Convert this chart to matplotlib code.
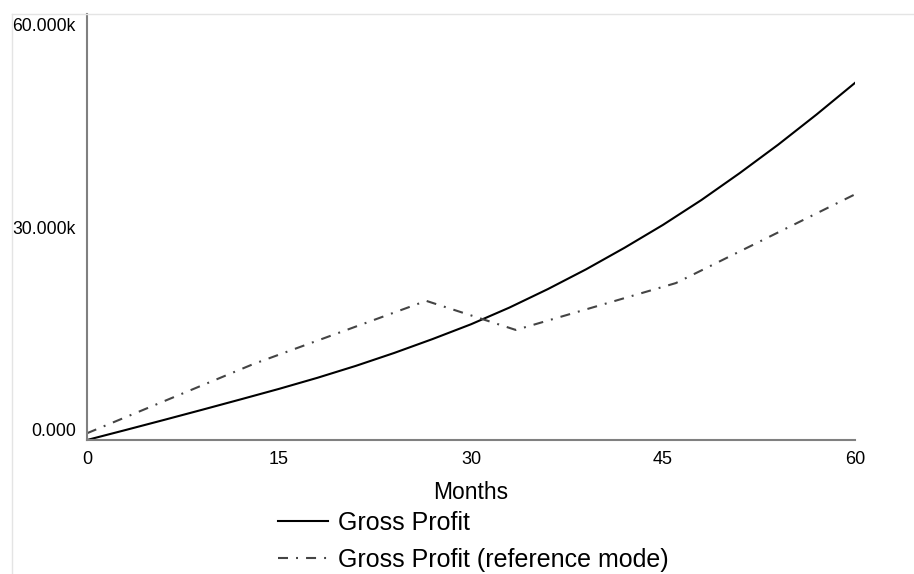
import matplotlib
matplotlib.use('Agg')
import matplotlib.pyplot as plt
import matplotlib.transforms as mtransforms
from matplotlib.lines import Line2D

plt.rcParams['font.family'] = ['Liberation Sans', 'DejaVu Sans']
plt.rcParams['lines.scale_dashes'] = False

# simulated gross profit, read off every 3 months
months = [0, 3, 6, 9, 12, 15, 18, 21, 24, 27, 30, 33, 36, 39, 42, 45, 48, 51, 54, 57, 60]
gross_profit = [0, 1400, 2820, 4260, 5720, 7200, 8760, 10440, 12260, 14220, 16300,
                18650, 21250, 24050, 27080, 30300, 33800, 37600, 41600, 45850, 50300]

# reference mode (piecewise)
ref_months = [0, 13, 26.5, 33.5, 46, 60]
ref_profit = [950, 10700, 19600, 15500, 22100, 34600]

x_ticks = [0, 15, 30, 45, 60]
y_ticks = [0, 30000, 60000]
y_tick_labels = ['0.000', '30.000k', '60.000k']

fig = plt.figure(figsize=(9.14, 5.74), dpi=100)
ax = fig.add_axes([87 / 914, 1 - 440 / 574, (855 - 87) / 914, (440 - 14) / 574])

ax.plot(months, gross_profit, color='black', lw=1.5, label='Gross Profit')
ax.plot(ref_months, ref_profit, color='#444444', lw=1.5,
        linestyle=(0, (7.2, 5.8, 1.4, 5.8)), label='Gross Profit (reference mode)')

ax.set_xlim(0, 60)
ax.set_ylim(0, 60000)
ax.set_xticks(x_ticks)
ax.set_xticklabels([str(t) for t in x_ticks], fontsize=13)
ax.set_yticks(y_ticks)
ax.set_yticklabels(y_tick_labels, fontsize=12.7)
ax.tick_params(length=0)
ax.tick_params(axis='x', pad=8)
ax.tick_params(axis='y', pad=8)
labs = ax.get_yticklabels()
labs[0].set_va('bottom')
labs[-1].set_va('top')
labs[-1].set_transform(labs[-1].get_transform() +
                       mtransforms.ScaledTranslation(0, -4 / 100, fig.dpi_scale_trans))

for s in ['top', 'right']:
    ax.spines[s].set_visible(False)
for s in ['left', 'bottom']:
    ax.spines[s].set_color('#808080')
    ax.spines[s].set_linewidth(1.5)

ax.set_xlabel('Months', fontsize=16.5, labelpad=9)

fig.legend(loc='upper left', bbox_to_anchor=(278 / 914, 1 - 511 / 574), frameon=False,
           fontsize=18, handlelength=2.0, handletextpad=0.4, labelspacing=0.5,
           borderaxespad=0, borderpad=0)

# light frame lines of the panel
fig.add_artist(Line2D([12 / 914, 12 / 914], [0, 1 - 14 / 574], color='#e4e4e4', lw=1))
fig.add_artist(Line2D([12 / 914, 1], [1 - 14 / 574, 1 - 14 / 574], color='#e4e4e4', lw=1))

fig.savefig('out.png', dpi=100)
